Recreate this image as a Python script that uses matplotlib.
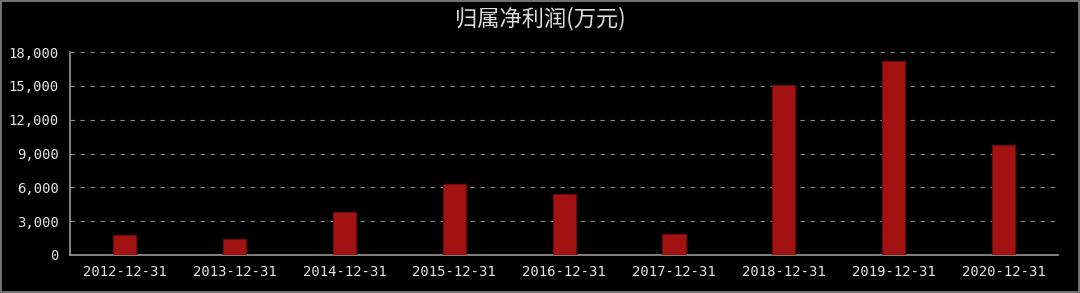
import matplotlib.pyplot as plt
from matplotlib.ticker import FuncFormatter

plt.rcParams['font.family'] = ['Noto Sans CJK SC', 'DejaVu Sans']

dates = ["2012-12-31", "2013-12-31", "2014-12-31", "2015-12-31", "2016-12-31",
         "2017-12-31", "2018-12-31", "2019-12-31", "2020-12-31"]
profit = [1780, 1390, 3840, 6290, 5430, 1890, 15070, 17230, 9720]
yticks = [0, 3000, 6000, 9000, 12000, 15000, 18000]

fig = plt.figure(figsize=(10.8, 2.93), dpi=100, facecolor="black")
ax = fig.add_axes([0.0648, 0.1297, 0.9152, 0.6928], facecolor="black")

x = range(len(dates))
ax.bar(x, profit, width=0.21, color="#a31212", edgecolor="#6e0a0a", linewidth=0.8, zorder=3)

ax.set_xlim(-0.5, len(dates) - 0.5)
ax.set_ylim(0, 18000)
ax.set_yticks(yticks)
ax.yaxis.set_major_formatter(FuncFormatter(lambda v, p: f"{int(v):,}"))
ax.set_xticks(list(x))
ax.set_xticklabels(dates)

ax.grid(axis="y", color="#8a8a8a", linestyle=(0, (4, 5)), linewidth=0.8, zorder=0)
for side in ["top", "right"]:
    ax.spines[side].set_visible(False)
for side in ["left", "bottom"]:
    ax.spines[side].set_color("#999999")
    ax.spines[side].set_linewidth(1.2)

ax.tick_params(axis="both", length=0, colors="#e6e6e6", labelsize=10)
ax.tick_params(axis="y", pad=8)
ax.tick_params(axis="x", pad=7)
for lbl in ax.get_xticklabels() + ax.get_yticklabels():
    lbl.set_family(["DejaVu Sans Mono"])

fig.text(0.5, 0.935, "归属净利润(万元)", ha="center", va="center",
         color="#dddddd", fontsize=16)

# thin gray frame around figure
border = plt.Rectangle((0.001, 0.002), 0.998, 0.995, transform=fig.transFigure,
                       fill=False, edgecolor="#888888", linewidth=1.2)
fig.patches.append(border)

fig.savefig("out.png", dpi=100, facecolor="black")
